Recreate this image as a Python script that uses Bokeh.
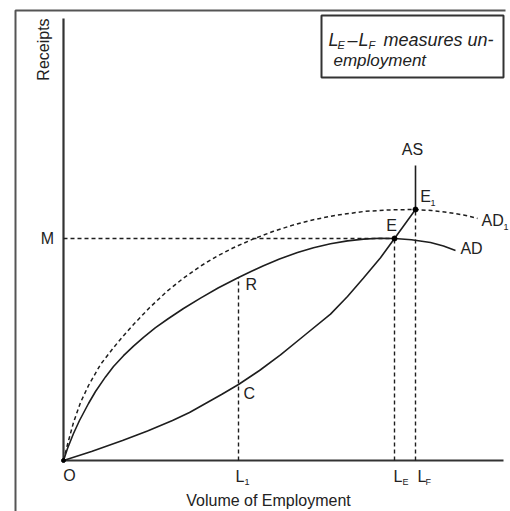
import math
from bokeh.plotting import figure
from bokeh.models import Range1d
from bokeh.core.properties import value
from bokeh.embed import file_html
from bokeh.resources import INLINE

# ---- data (economic units: volume of employment vs receipts) ----
AD_X = [0, 1, 2.5, 4, 6.25, 8, 10.5, 12.5, 15, 17.5, 20, 23, 26.25, 30, 34.25, 38.75,
        43.75, 47, 50, 54, 58.5, 62.5, 66.75, 71, 75, 79, 82.75, 87, 91.75, 95, 98]
AD_Y = [0, 3, 6.75, 10, 14.25, 17.25, 20.9, 23.5, 26.2, 28.6, 30.8, 33.2, 35.5, 38, 40.6, 43.2,
        45.75, 47.3, 48.7, 50.4, 52, 53.2, 54.2, 54.9, 55.35, 55.55, 55.5, 55.2, 54.5, 53.6, 52.5]

AD1_X = [0, 1, 2.5, 4.25, 6.25, 9.25, 12.5, 15, 17.5, 21.5, 26, 30, 34.25, 38.25, 42.5, 47.5,
         52.5, 57.5, 62.5, 67.5, 75, 81.5, 88, 92, 96.25, 100, 103.5]
AD1_Y = [0, 4, 9.5, 14.5, 18.75, 24, 28.2, 31.2, 34, 38.2, 42.4, 45.6, 48.6, 51, 53.2, 55.4,
         57.3, 58.9, 60.2, 61.2, 62.25, 62.65, 62.75, 62.5, 62, 61.4, 60.5]

AS_X = [0, 7, 14.75, 21, 27.25, 31.5, 35.5, 39.5, 43.75, 49, 54.25, 60.5, 66.75, 71, 75,
        79.25, 82.75, 88, 88]
AS_Y = [0, 2.25, 5, 7.4, 10, 12, 14.25, 16.5, 19, 22.5, 26.4, 31.5, 36.6, 41.0, 45.6,
        50.7, 55.5, 62.75, 73.75]

# key employment levels and receipts
L1, LE, LF = 43.75, 82.75, 88.0
R_Y, C_Y = 45.75, 19.0
M_Y, E1_Y = 55.5, 62.75
EQ_X = [LE, LF]
EQ_Y = [M_Y, E1_Y]

INK = "#1e1e1e"
FONT = "Liberation Sans"

p = figure(width=510, height=511,
           x_range=Range1d(-15.75, 111.75), y_range=Range1d(-12.75, 115),
           output_backend="svg", toolbar_location=None, min_border=0,
           x_axis_location=None, y_axis_location=None)
p.grid.visible = False
p.outline_line_color = None
p.background_fill_color = "white"
p.border_fill_color = "white"

# outer frame (left and top)
p.line([-12, -12, 110.5], [-12.75, 112.5, 112.5], line_color="#555555", line_width=2)

# axes
p.line([0, 0], [0, 110.5], line_color="#333333", line_width=2.2)
p.line([0, 110], [0, 0], line_color="#333333", line_width=2.2)

# guide lines (dashed)
dash = "4 3"
p.line([0, LE], [M_Y, M_Y], line_color=INK, line_width=1.4, line_dash=dash)
p.line([L1, L1], [0, R_Y], line_color=INK, line_width=1.4, line_dash=dash)
p.line([LE, LE], [0, M_Y], line_color=INK, line_width=1.4, line_dash=dash)
p.line([LF, LF], [0, E1_Y], line_color=INK, line_width=1.4, line_dash=dash)

# curves
p.line(AD1_X, AD1_Y, line_color=INK, line_width=1.5, line_dash=dash)
p.line(AD_X, AD_Y, line_color=INK, line_width=1.6)
p.line(AS_X, AS_Y, line_color=INK, line_width=1.6)

# equilibrium points
p.scatter(EQ_X, EQ_Y, size=5, color="black")
p.scatter([0], [0], size=4, color="black")


def lab(x, y, t, size=16, align="left", baseline="middle", style="normal", angle=0.0):
    p.text(x=[x], y=[y], text=[t], text_font=value(FONT), text_font_size=f"{size}px",
           text_align=align, text_baseline=baseline, text_font_style=style,
           text_color="#222222", angle=angle)


lab(-5, 102.75, "Receipts", 16, "center", angle=math.pi / 2)
lab(-4, M_Y, "M", 16, "center")
lab(1.5, -3.75, "O", 16, "center")

# employment labels
lab(L1 - 0.75, -4, "L", 16)
lab(L1 + 1.5, -5.25, "1", 9)
lab(LE - 0.25, -4, "L", 16)
lab(LE + 2.0, -5.25, "E", 9)
lab(LF + 0.5, -4, "L", 16)
lab(LF + 2.5, -5.25, "F", 9)

lab(45.5, 44, "R", 16)
lab(45, 16.75, "C", 16)
lab(82, 58.75, "E", 16, "center")
lab(90.5, 66, "E", 16, "center")
lab(91.75, 64.5, "1", 9)
lab(87.25, 77.75, "AS", 16, "center")
lab(102, 53, "AD", 16, "center")
lab(104.5, 60, "AD", 16)
lab(110.0, 58.5, "1", 9)

lab(51.25, -10, "Volume of Employment", 16, "center")

# note box
p.quad(left=[64.5], right=[110.0], top=[111.25], bottom=[95.75],
       fill_color=None, line_color="#333333", line_width=2)
lab(66.25, 105.25, "L", 18, baseline="alphabetic", style="italic")
lab(68.5, 104.0, "E", 11, baseline="alphabetic", style="italic")
lab(71.0, 105.25, "–", 18, baseline="alphabetic", style="italic")
lab(73.75, 105.25, "L", 18, baseline="alphabetic", style="italic")
lab(76.25, 104.0, "F", 11, baseline="alphabetic", style="italic")
lab(80.0, 105.25, "measures un-", 18, baseline="alphabetic", style="italic")
lab(67.5, 100.0, "employment", 17, baseline="alphabetic", style="italic")

open("out.html", "w").write(file_html(p, INLINE))
